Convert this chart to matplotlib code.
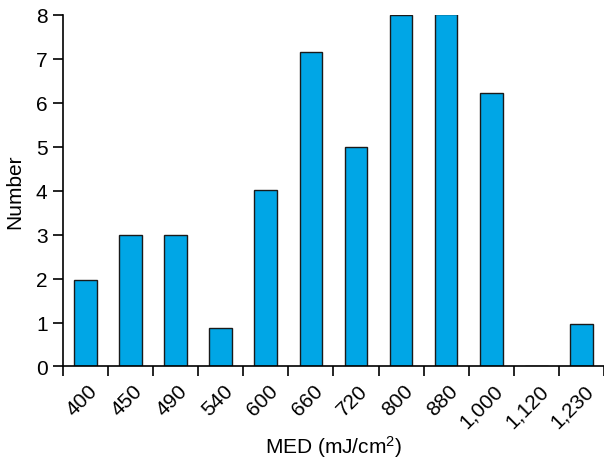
import matplotlib.pyplot as plt
import matplotlib.transforms as mtransforms
import numpy as np

plt.rcParams['font.family'] = ['Liberation Sans', 'DejaVu Sans']
plt.rcParams['mathtext.fontset'] = 'custom'
plt.rcParams['mathtext.rm'] = 'Liberation Sans'
plt.rcParams['mathtext.it'] = 'Liberation Sans:italic'

# MED dose categories (mJ/cm2) and number of subjects in each
med_labels = ["400", "450", "490", "540", "600", "660", "720", "800",
              "880", "1,000", "1,120", "1,230"]
counts = [1.96, 2.99, 2.99, 0.88, 4.02, 7.16, 5.0, 7.99, 8.01, 6.23, 0, 0.96]

fs = 15

fig = plt.figure(figsize=(6.04, 4.64), dpi=100)
ax = fig.add_axes([0.104, 0.208, 0.896, 0.758])

x = np.arange(len(med_labels))
ax.bar(x, counts, width=0.5, color='#00A6E6', edgecolor='#1a1a1a', linewidth=1.0)

ax.set_xlim(-0.5, len(med_labels) - 0.5)
ax.set_ylim(0, 8)
ax.set_yticks(range(0, 9))

# labels under the bars, tick marks between categories
ax.set_xticks(x)
ax.set_xticklabels(med_labels, rotation=45, ha='right', va='center',
                   rotation_mode='anchor')
ax.set_xticks(np.arange(-0.5, len(med_labels)), minor=True)
ax.tick_params(axis='x', which='major', length=0, pad=15, labelsize=fs)
ax.tick_params(axis='x', which='minor', length=7, width=1.2, direction='out')
ax.tick_params(axis='y', length=7, width=1.2, direction='out', labelsize=fs, pad=4)

offset = mtransforms.ScaledTranslation(9 / 100, 0, fig.dpi_scale_trans)
for lbl in ax.get_xticklabels():
    lbl.set_transform(lbl.get_transform() + offset)

for side in ['top', 'right']:
    ax.spines[side].set_visible(False)
for side in ['left', 'bottom']:
    ax.spines[side].set_linewidth(1.2)

ax.set_xlabel("MED (mJ/cm$^{2}$)", fontsize=fs, va='center')
ax.xaxis.set_label_coords(0.5, -0.225)
ax.set_ylabel("Number", fontsize=fs, labelpad=8)

fig.savefig("out.png", dpi=100)
